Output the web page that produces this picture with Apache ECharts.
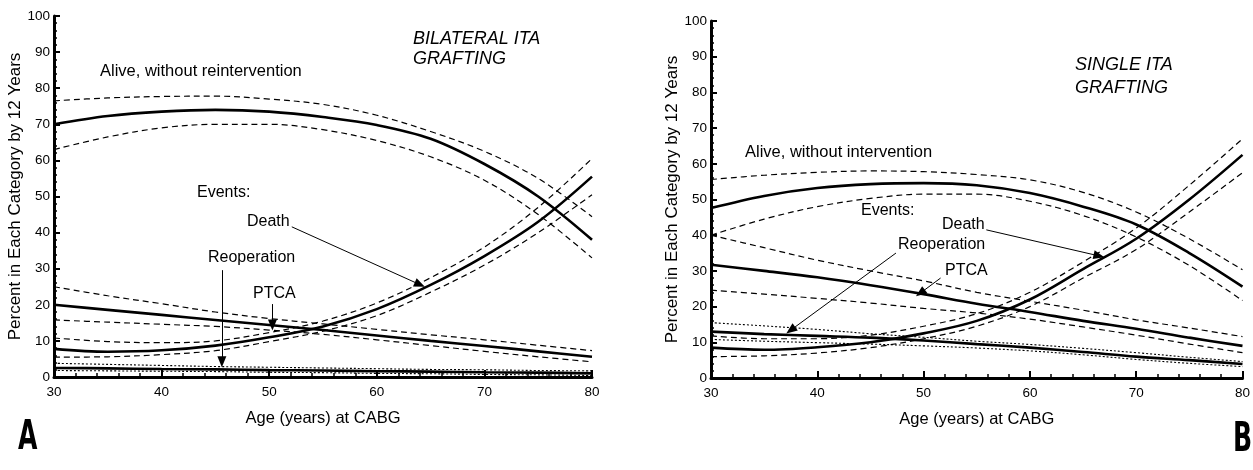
<!DOCTYPE html>
<html>
<head>
<meta charset="utf-8">
<script src="https://cdn.jsdelivr.net/npm/echarts@6/dist/echarts.min.js"></script>
<style>
  html, body { margin: 0; padding: 0; background: #fff; }
  #chart { width: 1253px; height: 470px; }
</style>
</head>
<body>
<div id="chart"></div>
<script>
// ages at CABG (x values shared by every curve)
const ages = [30, 35, 40, 45, 50, 55, 60, 65, 70, 75, 80]

// A: bilateral ITA grafting
const aliveB   = [70, 72.3, 73.5, 74, 73.5, 72, 69.8, 66, 59, 50, 38]
const aliveBHi = [76.5, 77.3, 77.7, 77.8, 77, 75.5, 72.5, 68, 62.5, 55, 44.4]
const aliveBLo = [63, 66.5, 69, 70, 70, 68.5, 65.5, 61, 54.5, 45, 33]
const deathB   = [7.8, 7.0, 7.4, 8.7, 11, 14, 18.8, 25.5, 33.5, 43, 55.5]
const deathBHi = [10.8, 9.8, 9.5, 10, 12.3, 15.5, 20.5, 27.5, 36, 47, 60.5]
const deathBLo = [5.5, 5.6, 6.2, 7.3, 9.8, 12.7, 17, 23.5, 31, 40, 50.5]
const ptcaB    = [20, 18.6, 17.2, 15.8, 14.4, 13, 11.5, 10, 8.6, 7.1, 5.6]
const ptcaBHi  = [25, 22.5, 20.3, 18, 16.2, 14.7, 13.2, 11.7, 10.3, 8.8, 7.3]
const ptcaBLo  = [15.8, 15.2, 14.6, 14, 13, 11.8, 10.3, 8.7, 7.1, 5.6, 4.2]
const reopB    = [2.5, 2.4, 2.2, 2.1, 1.9, 1.8, 1.6, 1.5, 1.3, 1.2, 1.0]
const reopBHi  = [3.8, 3.5, 3.2, 2.9, 2.7, 2.5, 2.3, 2.1, 2, 1.8, 1.7]
const reopBLo  = [1.8, 1.7, 1.6, 1.5, 1.3, 1.2, 1.0, 0.9, 0.7, 0.6, 0.4]

// B: single ITA grafting
const aliveS   = [47.6, 51, 53.2, 54.3, 54.6, 54, 51.8, 48, 43, 35, 25.6]
const aliveSHi = [55.6, 56.8, 57.6, 58, 57.8, 57, 55.5, 52, 46.5, 39, 30.3]
const aliveSLo = [40, 44.5, 48, 50.3, 51.5, 51.5, 49.5, 45.5, 39.5, 31.5, 21.7]
const deathS   = [8.5, 7.9, 8.6, 10, 12.5, 16, 22, 30.5, 39, 50, 62.5]
const deathSHi = [11.8, 11, 11, 12, 14.5, 18, 24, 32.5, 42, 54, 67]
const deathSLo = [6, 6.2, 7, 8.5, 11, 14.5, 20, 28, 36, 46.5, 57.5]
const ptcaS    = [31.7, 30, 28.2, 26, 23.5, 20.8, 18.5, 16, 13.8, 11.3, 9]
const ptcaSHi  = [40, 36.5, 33, 30, 27.2, 24, 21.5, 19, 16.3, 14, 11.6]
const ptcaSLo  = [24.6, 23.5, 22.3, 21, 19.5, 18.2, 16.5, 14.3, 12, 9.5, 7.1]
const reopS    = [13, 12.3, 11.8, 11.3, 10.5, 9.5, 8.5, 7.3, 6, 5, 3.9]
const reopSHi  = [15.5, 14.6, 13.6, 12.4, 11.4, 10.3, 9.4, 8.3, 7.1, 5.8, 4.6]
const reopSLo  = [10.8, 10.3, 9.9, 9.5, 9, 8.4, 7.6, 6.5, 5.2, 4.1, 3.2]

// annotation arrows, [from, to] in [age, percent]
const arrowsB = [
  [[52.1, 41.6], [64.0, 25.6]],
  [[45.6, 29.6], [45.6, 4.2]],
  [[50.3, 20.2], [50.3, 14.4]]
]
const arrowsS = [
  [[55.9, 41.5], [66.5, 34.2]],
  [[47.4, 35.0], [37.5, 13.4]],
  [[51.6, 28.0], [49.7, 23.8]]
]

const font = '"Liberation Sans", Arial, Helvetica, sans-serif'
const panelFont = 'bold 41px "DejaVu Sans Condensed", "DejaVu Sans", sans-serif'

function pts(vals) {
  return ages.map((a, i) => [a, vals[i]])
}

function curve(vals, idx, kind) {
  const style = {
    solid: { color: '#000', width: 2.6, type: 'solid' },
    dash: { color: '#000', width: 1.2, type: [6, 4] },
    dot: { color: '#000', width: 1.1, type: [2, 2] }
  }[kind]
  return {
    type: 'line',
    xAxisIndex: idx,
    yAxisIndex: idx,
    data: pts(vals),
    smooth: 0.35,
    symbol: 'none',
    lineStyle: style,
    silent: true,
    z: kind === 'solid' ? 3 : 2
  }
}

function arrows(list, idx) {
  return {
    type: 'line',
    xAxisIndex: idx,
    yAxisIndex: idx,
    data: [],
    silent: true,
    markLine: {
      silent: true,
      symbol: ['none', 'triangle'],
      symbolSize: [9, 11],
      label: { show: false },
      lineStyle: { color: '#000', width: 1, type: 'solid' },
      data: list.map(a => [{ coord: a[0] }, { coord: a[1] }])
    }
  }
}

function xAxis(idx) {
  return {
    type: 'value',
    gridIndex: idx,
    min: 30,
    max: 80,
    interval: 10,
    name: 'Age (years) at CABG',
    nameLocation: 'middle',
    nameGap: 33,
    nameTextStyle: { color: '#000', fontFamily: font, fontSize: 16.5 },
    axisLine: { lineStyle: { color: '#000', width: 3 } },
    axisTick: { inside: true, length: 7, lineStyle: { color: '#000', width: 2 } },
    minorTick: { show: true, splitNumber: 5, length: 4, lineStyle: { color: '#000', width: 1.5 } },
    axisLabel: { color: '#000', fontFamily: font, fontSize: 13.5, margin: 8 },
    splitLine: { show: false }
  }
}

function yAxis(idx) {
  return {
    type: 'value',
    gridIndex: idx,
    min: 0,
    max: 100,
    interval: 10,
    name: 'Percent in Each Category by 12 Years',
    nameLocation: 'middle',
    nameGap: 29,
    nameTextStyle: { color: '#000', fontFamily: font, fontSize: 17 },
    axisLine: { lineStyle: { color: '#000', width: 3 } },
    axisTick: { inside: true, length: 6, lineStyle: { color: '#000', width: 2 } },
    minorTick: { show: true, splitNumber: 5, length: 3, lineStyle: { color: '#000', width: 1.5 } },
    axisLabel: { color: '#000', fontFamily: font, fontSize: 13.5, margin: 4 },
    splitLine: { show: false }
  }
}

function txt(x, y, text, opts, extra) {
  return Object.assign({
    type: 'text',
    x: x,
    y: y,
    silent: true,
    style: Object.assign({
      text: text,
      fill: '#000',
      font: '16px ' + font,
      textVerticalAlign: 'middle'
    }, opts || {})
  }, extra || {})
}

const chart = echarts.init(document.getElementById('chart'))

chart.setOption({
  backgroundColor: '#fff',
  animation: false,
  grid: [
    { left: 54, top: 16, width: 538, height: 361 },
    { left: 711, top: 21, width: 535, height: 357 }
  ],
  xAxis: [xAxis(0), xAxis(1)],
  yAxis: [yAxis(0), yAxis(1)],
  series: [
    curve(aliveB, 0, 'solid'), curve(aliveBHi, 0, 'dash'), curve(aliveBLo, 0, 'dash'),
    curve(deathB, 0, 'solid'), curve(deathBHi, 0, 'dash'), curve(deathBLo, 0, 'dash'),
    curve(ptcaB, 0, 'solid'), curve(ptcaBHi, 0, 'dash'), curve(ptcaBLo, 0, 'dash'),
    curve(reopB, 0, 'solid'), curve(reopBHi, 0, 'dot'), curve(reopBLo, 0, 'dot'),
    arrows(arrowsB, 0),
    curve(aliveS, 1, 'solid'), curve(aliveSHi, 1, 'dash'), curve(aliveSLo, 1, 'dash'),
    curve(deathS, 1, 'solid'), curve(deathSHi, 1, 'dash'), curve(deathSLo, 1, 'dash'),
    curve(ptcaS, 1, 'solid'), curve(ptcaSHi, 1, 'dash'), curve(ptcaSLo, 1, 'dash'),
    curve(reopS, 1, 'solid'), curve(reopSHi, 1, 'dot'), curve(reopSLo, 1, 'dot'),
    arrows(arrowsS, 1)
  ],
  graphic: [
    // panel A
    txt(100, 71, 'Alive, without reintervention', { font: '16.5px ' + font }),
    txt(413, 39, 'BILATERAL ITA', { font: 'italic 18px ' + font }),
    txt(413, 59, 'GRAFTING', { font: 'italic 18px ' + font }),
    txt(197, 193, 'Events:'),
    txt(247, 222, 'Death'),
    txt(208, 258, 'Reoperation'),
    txt(253, 294, 'PTCA'),
    txt(18, 438, 'A', { font: panelFont }, { scaleX: 0.68 }),
    // panel B
    txt(745, 152, 'Alive, without intervention', { font: '16.5px ' + font }),
    txt(1075, 65, 'SINGLE ITA', { font: 'italic 18px ' + font }),
    txt(1075, 88, 'GRAFTING', { font: 'italic 18px ' + font }),
    txt(861, 211, 'Events:'),
    txt(942, 225, 'Death'),
    txt(898, 245, 'Reoperation'),
    txt(945, 271, 'PTCA'),
    txt(1233, 440, 'B', { font: panelFont }, { scaleX: 0.68 })
  ]
})
</script>
</body>
</html>
